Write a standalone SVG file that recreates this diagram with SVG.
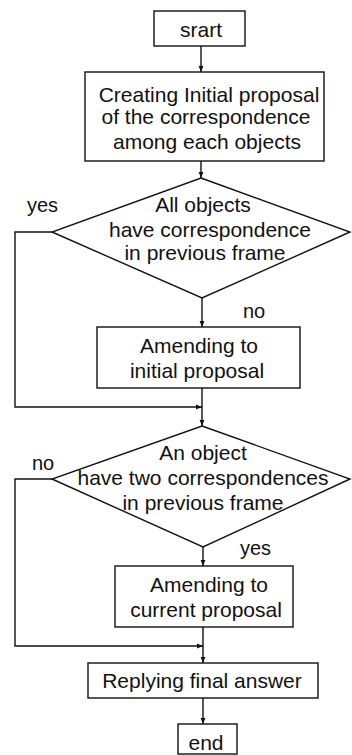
<svg xmlns="http://www.w3.org/2000/svg" width="352" height="755" viewBox="0 0 352 755">
<defs>
<style>
.n{fill:#fff;stroke:#111;stroke-width:1.4}
.t{font-family:"Liberation Sans",Arial,sans-serif;font-size:21px;fill:#111;text-anchor:middle}
.l{font-family:"Liberation Sans",Arial,sans-serif;font-size:20px;fill:#111}
.c{fill:none;stroke:#111;stroke-width:1.4}
</style>
<marker id="a" viewBox="0 0 10 10" refX="10" refY="5" markerWidth="6" markerHeight="6" orient="auto" markerUnits="userSpaceOnUse">
<path d="M0,1 L10,5 L0,9 z" fill="#111"/>
</marker>
</defs>
<rect width="352" height="755" fill="#fff"/>
<g id="connectors">
<path class="c" d="M201,46 V72" marker-end="url(#a)"/>
<path class="c" d="M201,161 V178" marker-end="url(#a)"/>
<path class="c" d="M202,298 V327" marker-end="url(#a)"/>
<path class="c" d="M52,232 H15 V407 H202" marker-end="url(#a)"/>
<path class="c" d="M202,388 V426" marker-end="url(#a)"/>
<path class="c" d="M203,547 V566" marker-end="url(#a)"/>
<path class="c" d="M52,479 H15 V646 H203" marker-end="url(#a)"/>
<path class="c" d="M203,627 V663" marker-end="url(#a)"/>
<path class="c" d="M203,698 V724" marker-end="url(#a)"/>
<text class="l" x="27" y="212">yes</text>
<text class="l" x="243" y="318">no</text>
<text class="l" x="32" y="470">no</text>
<text class="l" x="240" y="555">yes</text>
</g>
<g id="start">
<rect class="n" x="154" y="11" width="91" height="35"/>
<text class="t" x="201" y="37">srart</text>
</g>
<g id="create">
<rect class="n" x="85" y="72" width="239" height="89"/>
<text class="t" x="209" y="102">Creating Initial proposal</text>
<text class="t" x="206" y="124">of the correspondence</text>
<text class="t" x="207" y="149">among each objects</text>
</g>
<g id="decision1">
<polygon class="n" points="201,178 350,232 202,298 52,232"/>
<text class="t" x="203" y="212">All objects</text>
<text class="t" x="210" y="237">have correspondence</text>
<text class="t" x="205" y="260">in previous frame</text>
</g>
<g id="amend1">
<rect class="n" x="97" y="327" width="203" height="61"/>
<text class="t" x="199" y="353">Amending to</text>
<text class="t" x="197" y="378">initial proposal</text>
</g>
<g id="decision2">
<polygon class="n" points="202,426 350,479 203,547 52,479"/>
<text class="t" x="203" y="460">An object</text>
<text class="t" x="203" y="485">have two correspondences</text>
<text class="t" x="203" y="510">in previous frame</text>
</g>
<g id="amend2">
<rect class="n" x="115" y="566" width="178" height="61"/>
<text class="t" x="209" y="592">Amending to</text>
<text class="t" x="206" y="617">current proposal</text>
</g>
<g id="reply">
<rect class="n" x="88" y="663" width="230" height="35"/>
<text class="t" x="202" y="688">Replying final answer</text>
</g>
<g id="end">
<rect class="n" x="178" y="724" width="59" height="30"/>
<text class="t" x="206" y="750">end</text>
</g>
</svg>
